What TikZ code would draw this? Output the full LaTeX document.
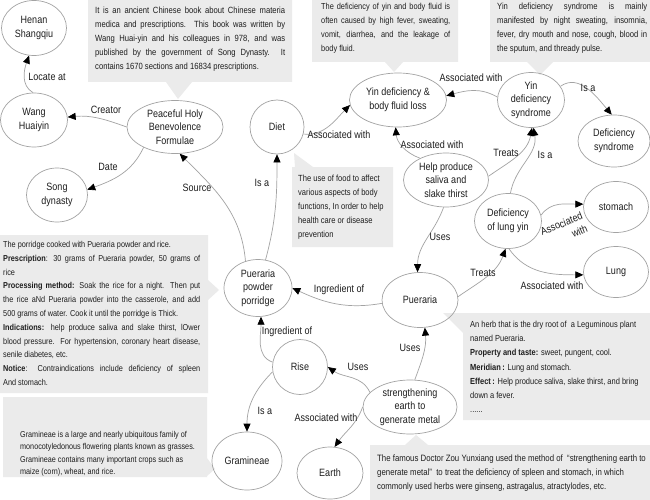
\documentclass[tikz,border=0pt]{standalone}
\usepackage{fontspec}
\setmainfont{Liberation Sans}[FakeStretch=0.85]
\usetikzlibrary{arrows.meta,shapes.geometric}
\definecolor{linegray}{HTML}{A3A3A3}
\definecolor{boxgray}{HTML}{EBEBEB}
\definecolor{txt}{HTML}{1E1E1E}
\newcommand\mynf{\fontsize{10.6}{13.5}\selectfont}
\newcommand\jl[2]{\makebox[#1][s]{#2}}
\tikzset{
  ell/.style={ellipse, draw=linegray, line width=0.7pt, inner sep=0pt, align=center, font=\mynf, text=txt},
  conn/.style={draw=linegray, line width=0.7pt, -{Triangle[length=8pt,width=7pt,color=black]}},
  lbl/.style={font=\mynf, inner sep=0pt, text=txt},
  boxbg/.style={fill=boxgray, draw=none},
  boxtext/.style={anchor=north west, inner sep=0pt, align=left, text=txt},
}
\begin{document}
\begin{tikzpicture}[x=1pt,y=1pt]
\useasboundingbox (0,0) rectangle (650,-500);
\fill[white] (0,0) rectangle (650,-500);

% callout boxes
\fill[boxbg] (88,0) -- (292,0) -- (292,-82) -- (192,-82) -- (178,-99) -- (166,-82) -- (88,-82) -- cycle;
\fill[boxbg] (312,0) -- (458,0) -- (458,-62) -- (403,-62) -- (394,-72) -- (385,-62) -- (312,-62) -- cycle;
\fill[boxbg] (490,0) -- (650,0) -- (650,-62) -- (553,-62) -- (540,-75) -- (527,-62) -- (490,-62) -- cycle;
\fill[boxbg] (292,-167) -- (295,-167) -- (294,-153) -- (313,-167) -- (393,-167) -- (393,-247) -- (292,-247) -- cycle;
\fill[boxbg] (0,-235) -- (208,-235) -- (208,-280) -- (219,-290) -- (208,-300) -- (208,-393) -- (0,-393) -- cycle;
\fill[boxbg] (3,-397) -- (207,-397) -- (207,-458) -- (215,-469) -- (207,-476) -- (207,-477) -- (3,-477) -- cycle;
\fill[boxbg] (443,-313) -- (650,-313) -- (650,-420) -- (463,-420) -- (463,-333) -- cycle;
\fill[boxbg] (370,-445) -- (405,-445) -- (416,-435) -- (428,-445) -- (650,-445) -- (650,-500) -- (370,-500) -- cycle;

% callout texts
\node[boxtext, font=\fontsize{9}{14}\selectfont] (t1) at (95,-7) {%
\jl{190pt}{It is an ancient Chinese book about Chinese materia}\\
\jl{190pt}{medica and prescriptions. This book was written by}\\
\jl{190pt}{Wang Huai-yin and his colleagues in 978, and was}\\
\jl{190pt}{published by the government of Song Dynasty. It}\\
contains 1670 sections and 16834 prescriptions.};

\node[boxtext, font=\fontsize{8.7}{14}\selectfont] (t2) at (321,-3) {%
\jl{129pt}{The deficiency of yin and body fluid is}\\
\jl{129pt}{often caused by high fever, sweating,}\\
\jl{129pt}{vomit, diarrhea, and the leakage of}\\
body fluid.};

\node[boxtext, font=\fontsize{9}{14}\selectfont] (t3) at (497,-3) {%
\jl{150pt}{Yin deficiency syndrome is mainly}\\
\jl{150pt}{manifested by night sweating, insomnia,}\\
\jl{150pt}{fever, dry mouth and nose, cough, blood in}\\
the sputum, and thready pulse.};

\node[boxtext, font=\fontsize{8.9}{14}\selectfont] (t4) at (298,-175) {%
The use of food to affect\\
various aspects of body\\
functions, In order to help\\
health care or disease\\
prevention};

\node[boxtext, font=\fontsize{8.6}{13.8}\selectfont] (t5) at (3,-241) {%
The porridge cooked with Pueraria powder and rice.\\
\jl{197pt}{\textbf{Prescription}: 30 grams of Pueraria powder, 50 grams of}\\
rice\\
\jl{197pt}{\textbf{Processing method:} Soak the rice for a night. Then put}\\
\jl{197pt}{the rice aNd Pueraria powder into the casserole, and add}\\
500 grams of water. Cook it until the porridge is Thick.\\
\jl{197pt}{\textbf{Indications:} help produce saliva and slake thirst, lOwer}\\
\jl{197pt}{blood pressure. For hypertension, coronary heart disease,}\\
senile diabetes, etc.\\
\jl{197pt}{\textbf{Notice}: Contraindications include deficiency of spleen}\\
And stomach.};

\node[boxtext, font=\fontsize{8.5}{12.4}\selectfont] (t6) at (20,-431) {%
Gramineae is a large and nearly ubiquitous family of\\
monocotyledonous flowering plants known as grasses.\\
Gramineae contains many important crops such as\\
maize (corn), wheat, and rice.};

\node[boxtext, font=\fontsize{8.8}{14.2}\selectfont] (t7) at (470,-321) {%
An herb that is the dry root of\ \ a Leguminous plant\\
named Pueraria.\\
\textbf{Property and taste:} sweet, pungent, cool.\\
\textbf{Meridian\,:} Lung and stomach.\\
\textbf{Effect\,:} Help produce saliva, slake thirst, and bring\\
down a fever.\\
......};

\node[boxtext, font=\fontsize{9.2}{14}\selectfont] (t8) at (377,-455) {%
The famous Doctor Zou Yunxiang used the method of\ \ “strengthening earth to\\
generate metal”\ \ to treat the deficiency of spleen and stomach, in which\\
commonly used herbs were ginseng, astragalus, atractylodes, etc.};

% concept nodes
\node[ell, minimum width=65pt, minimum height=55pt] (henan) at (34,-28) {Henan\\Shangqiu};
\node[ell, minimum width=67pt, minimum height=54pt] (wang) at (34,-120) {Wang\\Huaiyin};
\node[ell, minimum width=96pt, minimum height=53pt] (peaceful) at (175,-127) {Peaceful Holy\\Benevolence\\Formulae};
\node[ell, minimum width=61pt, minimum height=54pt] (song) at (57,-195) {Song\\dynasty};
\node[ell, minimum width=54pt, minimum height=54pt] (diet) at (277,-127) {Diet};
\node[ell, minimum width=97pt, minimum height=54pt] (yinfluid) at (398,-100) {Yin deficiency \&\\body fluid loss};
\node[ell, minimum width=67pt, minimum height=55pt] (syndrome) at (531,-100) {Yin\\deficiency\\syndrome};
\node[ell, minimum width=72pt, minimum height=52pt] (defsyn) at (614,-141) {Deficiency\\syndrome};
\node[ell, minimum width=85pt, minimum height=54pt] (help) at (446,-180) {Help produce\\saliva and\\slake thirst};
\node[ell, minimum width=67pt, minimum height=55pt] (lungyin) at (508,-221) {Deficiency\\of lung yin};
\node[ell, minimum width=65pt, minimum height=51pt] (stomach) at (616,-207) {stomach};
\node[ell, minimum width=65pt, minimum height=51pt] (lung) at (616,-272) {Lung};
\node[ell, minimum width=76pt, minimum height=55pt] (pueraria) at (420,-300) {Pueraria};
\node[ell, minimum width=68pt, minimum height=57pt] (porridge) at (258,-288) {Pueraria\\powder\\porridge};
\node[ell, minimum width=55pt, minimum height=55pt] (rise) at (300,-367) {Rise};
\node[ell, minimum width=70pt, minimum height=58pt] (gramineae) at (247,-461) {Gramineae};
\node[ell, minimum width=66pt, minimum height=52pt] (earth) at (330,-473) {Earth};
\node[ell, minimum width=94pt, minimum height=54pt] (strength) at (410,-407) {strengthening\\earth to\\generate metal};

% connectors
\draw[conn] (wang.92) to[out=150,in=-110] (henan.-100);
\draw[conn] (peaceful.180) to[out=160,in=5] (wang.5);
\draw[conn] (peaceful.-147) to[out=-115,in=20] (song.10);
\draw[conn] (porridge.115) to[out=95,in=-45] (peaceful.-80);
\draw[conn] (porridge.75) to[out=75,in=-90] (diet.-90);
\draw[conn] (diet.-15) to[out=-5,in=-135] (yinfluid.186);
\draw[conn] (syndrome.175) to[out=150,in=15] (yinfluid.5);
\draw[conn] (syndrome.25) to[out=35,in=130] (defsyn.95);
\draw[conn] (help.140) to[out=160,in=-85] (yinfluid.-95);
\draw[conn] (help.5) to[out=35,in=-100] (syndrome.-88);
\draw[conn] (lungyin.85) to[out=80,in=-80] (syndrome.-85);
\draw[conn] (help.-95) to[out=-110,in=90] (pueraria.95);
\draw[conn] (pueraria.5) to[out=35,in=-110] (lungyin.-95);
\draw[conn] (lungyin.10) to[out=55,in=180] (stomach.175);
\draw[conn] (lungyin.-88) to[out=-55,in=180] (lung.185);
\draw[conn] (pueraria.185) to[out=190,in=-25] (porridge.0);
\draw[conn] (rise.170) to[out=160,in=-90] (porridge.-84);
\draw[conn] (rise.190) to[out=225,in=90] (gramineae.90);
\draw[conn] (strength.160) to[out=115,in=-35] (rise.0);
\draw[conn] (strength.180) to[out=-110,in=55] (earth.80);
\draw[conn] (strength.80) to[out=70,in=-85] (pueraria.-80);

% connector labels
\node[lbl] (l1) at (47,-77) {Locate at};
\node[lbl] (l2) at (106,-110) {Creator};
\node[lbl] (l3) at (108,-167) {Date};
\node[lbl] (l4) at (197,-188) {Source};
\node[lbl] (l5) at (262,-183) {Is a};
\node[lbl] (l6) at (339,-135) {Associated with};
\node[lbl] (l7) at (471,-78) {Associated with};
\node[lbl] (l8) at (588,-88) {Is a};
\node[lbl] (l9) at (432,-145) {Associated with};
\node[lbl] (l10) at (506,-153) {Treats};
\node[lbl] (l11) at (545,-155) {Is a};
\node[lbl] (l12) at (440,-237) {Uses};
\node[lbl] (l13) at (483,-273) {Treats};
\node[lbl, align=right, rotate=22] (l14) at (564,-230) {Associated\\with};
\node[lbl] (l15) at (552,-286) {Associated with};
\node[lbl] (l16) at (339,-290) {Ingredient of};
\node[lbl] (l17) at (287,-332) {Ingredient of};
\node[lbl] (l18) at (265,-411) {Is a};
\node[lbl] (l19) at (358,-367) {Uses};
\node[lbl] (l20) at (326,-418) {Associated with};
\node[lbl] (l21) at (410,-348) {Uses};
\end{tikzpicture}
\end{document}
